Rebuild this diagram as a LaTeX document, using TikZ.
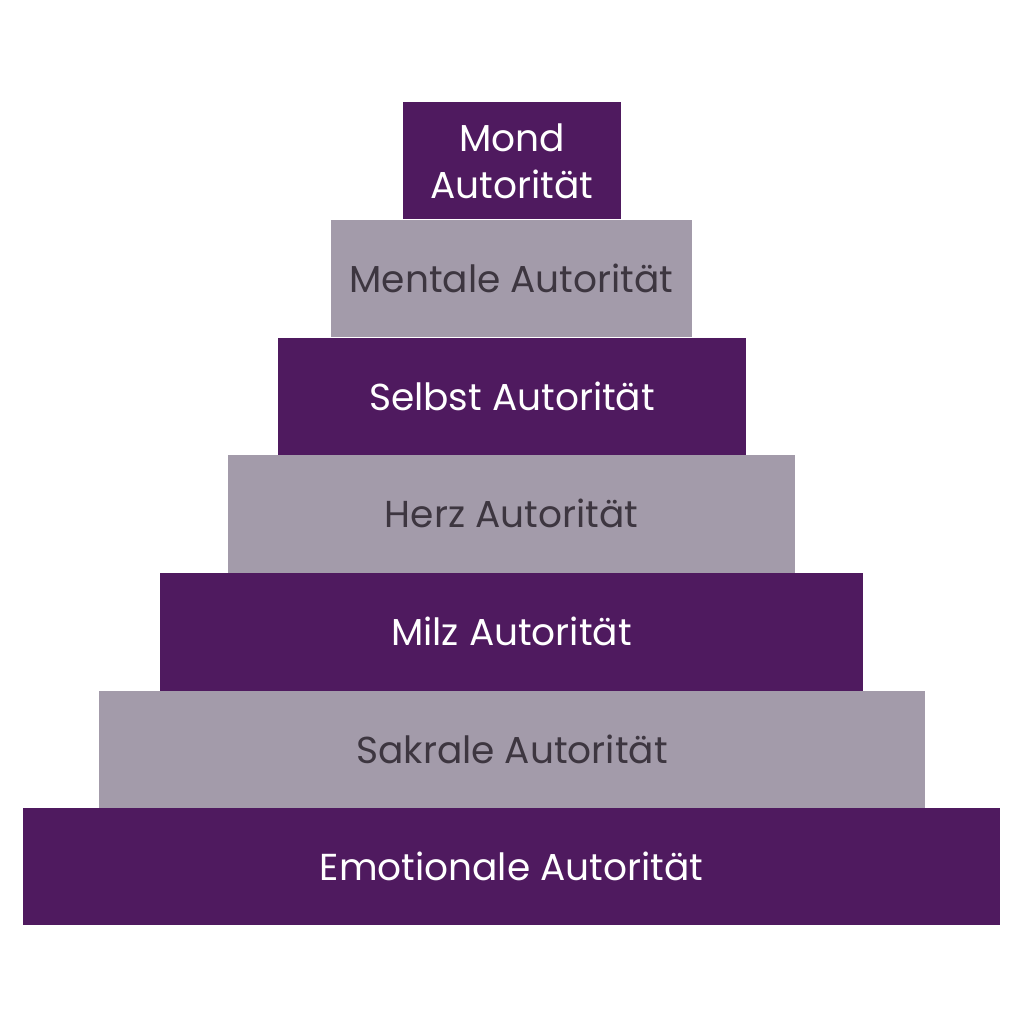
\documentclass[tikz,border=0pt]{standalone}
\usepackage{fontspec}
\setmainfont{Poppins}
\definecolor{purp}{HTML}{4F1A5F}
\definecolor{grayb}{HTML}{A39BAA}
\definecolor{txtd}{HTML}{3D3640}
\begin{document}
\begin{tikzpicture}[x=1pt,y=-1pt,
  lvl/.style={inner sep=0pt,font=\fontsize{37.5}{47}\selectfont,align=center},
  dark/.style={lvl,fill=purp,text=white},
  light/.style={lvl,fill=grayb,text=txtd}]
\fill[white] (0,0) rectangle (1024,1024);
\useasboundingbox (0,0) rectangle (1024,1024);
\node[dark,minimum width=218pt,minimum height=117pt] (mond) at (512,161) {Mond\\Autorität};
\node[light,minimum width=361pt,minimum height=117pt] (ment) at (511.5,278.5) {Mentale Autorität};
\node[dark,minimum width=468pt,minimum height=117pt] (selb) at (512,396) {Selbst Autorität};
\node[light,minimum width=567pt,minimum height=118pt] (herz) at (511.5,513.5) {Herz Autorität};
\node[dark,minimum width=703pt,minimum height=118pt] (milz) at (511.5,631.5) {Milz Autorität};
\node[light,minimum width=826pt,minimum height=117pt] (sakr) at (512,749) {Sakrale Autorität};
\node[dark,minimum width=977pt,minimum height=117pt] (emot) at (511.5,866.5) {Emotionale Autorität};
\end{tikzpicture}
\end{document}
